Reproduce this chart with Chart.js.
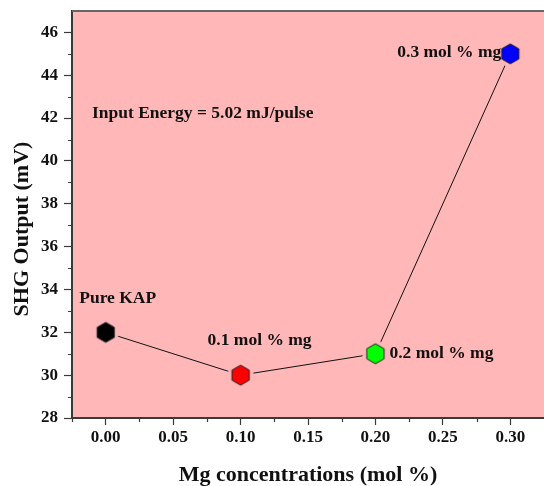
<!DOCTYPE html>
<html>
<head>
<meta charset="utf-8">
<script src="https://cdn.jsdelivr.net/npm/chart.js@4.4.1/dist/chart.umd.min.js"></script>
<style>
  html, body { margin: 0; padding: 0; background: #fff; }
  #wrap { width: 544px; height: 486px; }
</style>
</head>
<body>
<div id="wrap"><canvas id="chart" width="544" height="486"></canvas></div>
<script>
// SHG output vs Mg doping
const concentrations = [0.00, 0.10, 0.20, 0.30];
const shgOutput = [32, 30, 31, 45];
const pointLabels = ['Pure KAP', '0.1 mol % mg', '0.2 mol % mg', '0.3 mol % mg'];
const markerColors = ['#000000', '#ff0000', '#00ff00', '#0000ff'];

const xTickValues = [0.00, 0.05, 0.10, 0.15, 0.20, 0.25, 0.30];
const xMinorTicks = [-0.025, 0.025, 0.075, 0.125, 0.175, 0.225, 0.275];
const yTickValues = [28, 30, 32, 34, 36, 38, 40, 42, 44, 46];
const yMinorTicks = [29, 31, 33, 35, 37, 39, 41, 43, 45];

const PANEL = '#ffb7b7';
const SERIF = '"Liberation Serif", "Times New Roman", serif';
const INK = '#111';
const AXIS = '#3a3a3a';

// hexagon markers with a panel-coloured halo so the line stops short of them
function hexMarker(fill) {
    const c = document.createElement('canvas');
    c.width = 28; c.height = 28;
    const g = c.getContext('2d');
    g.fillStyle = PANEL;
    g.beginPath();
    g.arc(14, 14, 13, 0, Math.PI * 2);
    g.fill();
    g.beginPath();
    for (let i = 0; i < 6; i++) {
        const a = -Math.PI / 2 + i * Math.PI / 3;
        const px = 14 + 10 * Math.cos(a);
        const py = 14 + 10 * Math.sin(a);
        if (i === 0) g.moveTo(px, py); else g.lineTo(px, py);
    }
    g.closePath();
    g.fillStyle = fill;
    g.fill();
    g.lineWidth = 1;
    g.strokeStyle = '#222';
    g.stroke();
    return c;
}
const markers = markerColors.map(hexMarker);

const panelBg = {
    id: 'panelBg',
    beforeDraw(chart) {
        const { ctx, chartArea: a } = chart;
        ctx.save();
        ctx.fillStyle = '#fff';
        ctx.fillRect(0, 0, chart.width, chart.height);
        ctx.fillStyle = PANEL;
        ctx.fillRect(a.left, a.top, a.right - a.left, a.bottom - a.top);
        ctx.restore();
    }
};

const frame = {
    id: 'frame',
    afterDraw(chart) {
        const { ctx, chartArea: a, scales } = chart;
        ctx.save();
        ctx.strokeStyle = '#666';
        ctx.lineWidth = 2;
        ctx.beginPath();
        ctx.moveTo(a.left, a.top);
        ctx.lineTo(a.right, a.top);
        ctx.stroke();
        // minor ticks
        ctx.strokeStyle = AXIS;
        ctx.lineWidth = 1.2;
        ctx.beginPath();
        xMinorTicks.forEach(v => {
            const x = Math.round(scales.x.getPixelForValue(v)) + 0.5;
            ctx.moveTo(x, a.bottom);
            ctx.lineTo(x, a.bottom + 4);
        });
        yMinorTicks.forEach(v => {
            const y = Math.round(scales.y.getPixelForValue(v)) + 0.5;
            ctx.moveTo(a.left, y);
            ctx.lineTo(a.left - 4, y);
        });
        ctx.stroke();
        ctx.restore();
    }
};

// text offsets for each point label: [dx, dy, align]
const labelOffsets = [[12, -34, 'center'], [19, -35, 'center'], [14, 0, 'left'], [-9, -1, 'right']];

const annotations = {
    id: 'annotations',
    afterDatasetsDraw(chart) {
        const { ctx, scales } = chart;
        ctx.save();
        ctx.fillStyle = INK;
        ctx.font = 'bold 17.5px ' + SERIF;
        ctx.textBaseline = 'middle';
        concentrations.forEach((xv, i) => {
            const px = scales.x.getPixelForValue(xv);
            const py = scales.y.getPixelForValue(shgOutput[i]);
            const [dx, dy, align] = labelOffsets[i];
            ctx.textAlign = align;
            ctx.fillText(pointLabels[i], px + dx, py + dy);
        });
        ctx.textAlign = 'left';
        ctx.fillText('Input Energy = 5.02 mJ/pulse', scales.x.getPixelForValue(-0.0102), scales.y.getPixelForValue(42.2));

        // y axis title
        ctx.font = 'bold 22px ' + SERIF;
        ctx.textAlign = 'center';
        ctx.translate(22, 229);
        ctx.rotate(-Math.PI / 2);
        ctx.fillText('SHG Output (mV)', 0, 0);
        ctx.restore();
    }
};

// keep the plot frame fixed, whatever the edge tick labels need
function noEdgePadding(s) {
    s.paddingTop = 0;
    s.paddingBottom = 0;
    s.paddingLeft = 0;
    s.paddingRight = 0;
}

new Chart(document.getElementById('chart'), {
    type: 'line',
    data: {
        datasets: [{
            data: concentrations.map((x, i) => ({ x: x, y: shgOutput[i] })),
            borderColor: '#111',
            borderWidth: 1,
            tension: 0,
            pointStyle: markers,
            pointRadius: 14,
            pointHoverRadius: 14
        }]
    },
    options: {
        responsive: false,
        animation: false,
        events: [],
        layout: { autoPadding: false, padding: { top: 11, right: 0, left: 0, bottom: 0 } },
        plugins: { legend: { display: false }, tooltip: { enabled: false } },
        scales: {
            x: {
                type: 'linear',
                min: -0.025,
                max: 0.325,
                afterBuildTicks: s => { s.ticks = xTickValues.map(v => ({ value: v })); },
                afterFit: s => { s.height = 68; noEdgePadding(s); },
                ticks: {
                    padding: 2,
                    color: INK,
                    font: { family: SERIF, size: 17, weight: 'bold' },
                    callback: v => Number(v).toFixed(2)
                },
                grid: { drawOnChartArea: false, drawTicks: true, tickLength: 7, tickColor: AXIS, tickWidth: 1.2 },
                border: { display: true, color: AXIS, width: 2 },
                title: {
                    display: true,
                    text: 'Mg concentrations (mol %)',
                    color: INK,
                    font: { family: SERIF, size: 22, weight: 'bold', lineHeight: 1 },
                    padding: { top: 0, bottom: 0 }
                }
            },
            y: {
                min: 28,
                max: 47,
                afterBuildTicks: s => { s.ticks = yTickValues.map(v => ({ value: v })); },
                afterFit: s => { s.width = 72; noEdgePadding(s); },
                ticks: {
                    padding: 6,
                    color: INK,
                    font: { family: SERIF, size: 17, weight: 'bold', lineHeight: 0.5 }
                },
                grid: { drawOnChartArea: false, drawTicks: true, tickLength: 8, tickColor: AXIS, tickWidth: 1.2 },
                border: { display: true, color: AXIS, width: 2 }
            }
        }
    },
    plugins: [panelBg, frame, annotations]
});
</script>
</body>
</html>
